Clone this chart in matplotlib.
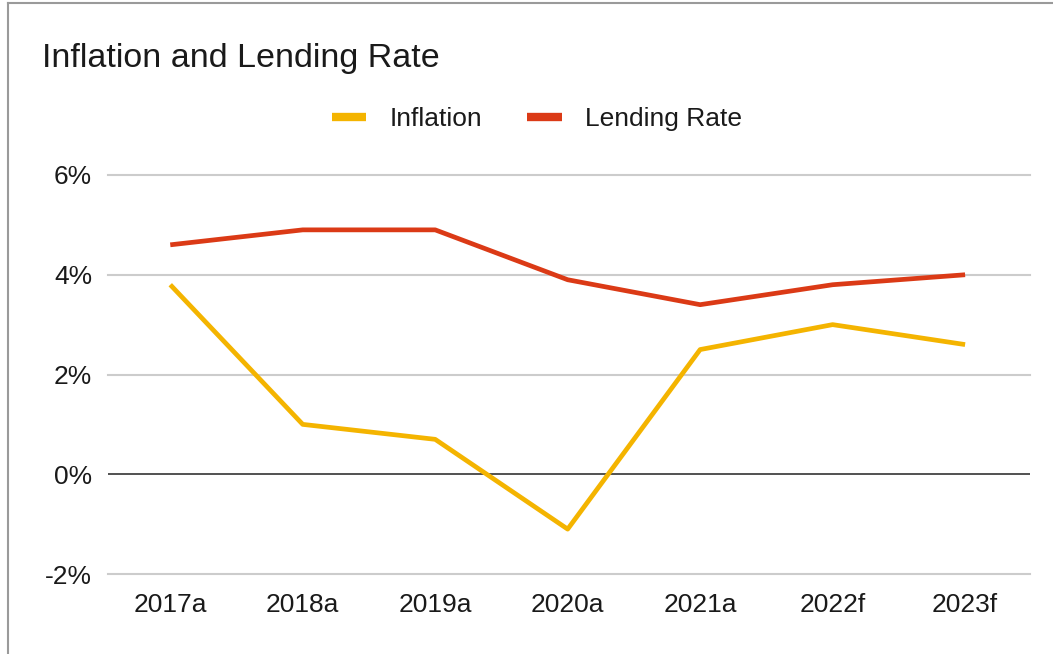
import matplotlib
matplotlib.use("Agg")
import matplotlib.pyplot as plt
from matplotlib.lines import Line2D
from matplotlib.ticker import FuncFormatter

categories = ["2017a", "2018a", "2019a", "2020a", "2021a", "2022f", "2023f"]
inflation = [3.8, 1.0, 0.7, -1.1, 2.5, 3.0, 2.6]
lending_rate = [4.6, 4.9, 4.9, 3.9, 3.4, 3.8, 4.0]
y_ticks = [-2, 0, 2, 4, 6]

plt.rcParams['font.family'] = ['Liberation Sans', 'DejaVu Sans']

fig = plt.figure(figsize=(10.53, 6.54), dpi=100)
ax = fig.add_axes([108/1053, 1-574/654, (1030-108)/1053, (574-175)/654])

x = list(range(len(categories)))
ax.plot(x, inflation, color="#F4B400", lw=3.4, label="Inflation", solid_capstyle="butt", zorder=3)
ax.plot(x, lending_rate, color="#DB3A16", lw=3.4, label="Lending Rate", solid_capstyle="butt", zorder=3)

ax.set_xlim(-0.47, 6.49)
ax.set_ylim(-2, 6)
ax.set_yticks(y_ticks)
ax.yaxis.set_major_formatter(FuncFormatter(lambda v, p: f"{int(v)}%"))
ax.set_xticks(x)
ax.set_xticklabels(categories)
for yv in y_ticks:
    if yv == 0:
        ax.axhline(yv, color="#333333", lw=1.2, zorder=2)
    else:
        ax.axhline(yv, color="#cccccc", lw=1.5, zorder=1, clip_on=False)
for s in ax.spines.values():
    s.set_visible(False)
ax.tick_params(axis='both', length=0, labelsize=19, colors="#1a1a1a")
ax.tick_params(axis='y', pad=11.5)
ax.tick_params(axis='x', pad=14)

fig.text(42/1053, 1-59/654, "Inflation and Lending Rate", fontsize=24.5, va="center", ha="left", color="#1a1a1a")

leg = fig.legend(loc="center", bbox_to_anchor=(537/1053, 1-119/654), ncol=2, frameon=False,
                 fontsize=19, handlelength=1.3, handletextpad=0.9, columnspacing=1.7,
                 labelcolor="#1a1a1a")
for h in leg.get_lines():
    h.set_linewidth(6)

fig.add_artist(Line2D([8/1053, 1], [1-3/654, 1-3/654], transform=fig.transFigure, color="#9a9a9a", lw=1.5))
fig.add_artist(Line2D([8/1053, 8/1053], [0, 1-3/654], transform=fig.transFigure, color="#9a9a9a", lw=1.5))

fig.savefig("out.png", dpi=100)
